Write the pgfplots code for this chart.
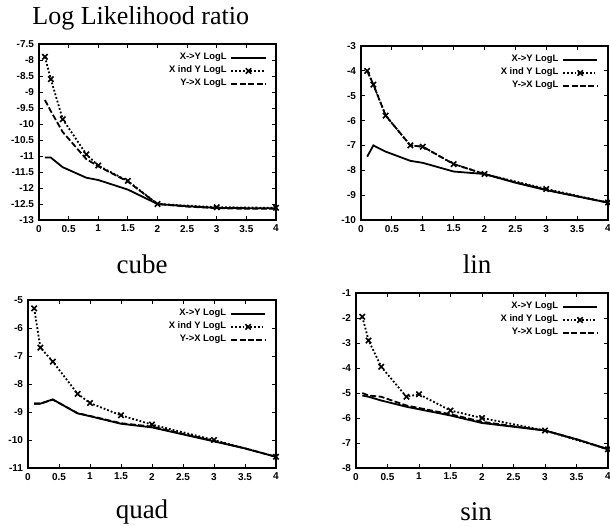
\documentclass[border=0pt]{standalone}
\usepackage{fontspec}
\setmainfont{Liberation Serif}
\newfontfamily\hv{Liberation Sans}
\usepackage{pgfplots}
\pgfplotsset{compat=1.18}

\pgfplotsset{
  llr/.style={
    scale only axis,
    xmin=0, xmax=4,
    xtick={0,0.5,1,1.5,2,2.5,3,3.5,4},
    xticklabels={0,0.5,1,1.5,2,2.5,3,3.5,4},
    tick align=inside,
    major tick length=2pt,
    tick style={black, line width=0.4pt},
    axis line style={black, line width=0.9pt},
    /pgf/number format/assume math mode=true,
    ticklabel style={font=\hv\bfseries\fontsize{5}{6}\selectfont},
    xticklabel style={yshift=1pt},
    yticklabel style={xshift=1pt},
    legend style={at={(0.97,0.985)}, anchor=north east, draw=none, fill=none,
      font=\hv\bfseries\fontsize{4.7}{5}\selectfont, row sep=-2.2pt,
      inner sep=1pt},
    legend cell align=right,
    legend plot pos=right,
  },
  xy/.style={black, line width=0.9pt, solid},
  ind/.style={black, line width=0.9pt, densely dotted, mark=x, mark size=1.9pt,
    mark options={solid, line width=0.8pt}},
  yx/.style={black, line width=0.9pt, dash pattern=on 3pt off 1.2pt},
}

\begin{document}
\begin{tikzpicture}[x=0.5pt, y=0.5pt]
\useasboundingbox (0,0) rectangle (610,526);

\node[anchor=west, inner sep=0pt, font=\fontsize{13}{15}\selectfont] at (32,508) {Log Likelihood ratio};

% cube
\begin{axis}[llr, at={(19.5pt,153pt)}, anchor=south west, width=118.5pt, height=88pt,
  ymin=-13, ymax=-7.5, ytick={-13,-12.5,-12,-11.5,-11,-10.5,-10,-9.5,-9,-8.5,-8,-7.5},
  yticklabels={-13,-12.5,-12,-11.5,-11,-10.5,-10,-9.5,-9,-8.5,-8,-7.5}]
\addplot[xy] coordinates {(0.1,-11.05) (0.2,-11.05) (0.4,-11.35) (0.8,-11.68) (1,-11.75) (1.5,-12.05) (2,-12.5) (2.5,-12.57) (3,-12.62) (3.5,-12.63) (4,-12.63)};
\addlegendentry{X->Y LogL}
\addplot[ind] coordinates {(0.1,-7.9) (0.2,-8.6) (0.4,-9.85) (0.8,-10.95) (1,-11.3) (1.5,-11.78) (2,-12.5) (3,-12.6) (4,-12.62)};
\addlegendentry{X ind Y LogL}
\addplot[yx] coordinates {(0.1,-9.25) (0.2,-9.6) (0.4,-10.25) (0.8,-11.1) (1,-11.32) (1.5,-11.8) (2,-12.5) (2.5,-12.58) (3,-12.63) (3.5,-12.65) (4,-12.65)};
\addlegendentry{Y->X LogL}
\end{axis}
\node[font=\fontsize{13.5}{15}\selectfont] at (142,262) {cube};

% lin
\begin{axis}[llr, at={(180.5pt,153pt)}, anchor=south west, width=123.5pt, height=87pt,
  ymin=-10, ymax=-3, ytick={-10,-9,-8,-7,-6,-5,-4,-3},
  yticklabels={-10,-9,-8,-7,-6,-5,-4,-3}]
\addplot[xy] coordinates {(0.1,-7.45) (0.2,-7.0) (0.4,-7.25) (0.8,-7.62) (1,-7.7) (1.5,-8.05) (2,-8.15) (2.5,-8.5) (3,-8.8) (3.5,-9.05) (4,-9.3)};
\addlegendentry{X->Y LogL}
\addplot[ind] coordinates {(0.1,-4.0) (0.2,-4.55) (0.4,-5.8) (0.8,-7.0) (1,-7.05) (1.5,-7.75) (2,-8.15) (3,-8.75) (4,-9.3)};
\addlegendentry{X ind Y LogL}
\addplot[yx] coordinates {(0.1,-4.0) (0.2,-4.55) (0.4,-5.8) (0.8,-7.0) (1,-7.05) (1.5,-7.75) (2,-8.15) (2.5,-8.48) (3,-8.78) (3.5,-9.05) (4,-9.3)};
\addlegendentry{Y->X LogL}
\end{axis}
\node[font=\fontsize{13.5}{15}\selectfont] at (477,262) {lin};

% quad
\begin{axis}[llr, at={(14pt,29pt)}, anchor=south west, width=124pt, height=84pt,
  ymin=-11, ymax=-5, ytick={-11,-10,-9,-8,-7,-6,-5},
  yticklabels={-11,-10,-9,-8,-7,-6,-5}]
\addplot[xy] coordinates {(0.1,-8.7) (0.2,-8.7) (0.4,-8.55) (0.8,-9.05) (1,-9.15) (1.5,-9.42) (2,-9.55) (2.5,-9.8) (3,-10.05) (3.5,-10.3) (4,-10.6)};
\addlegendentry{X->Y LogL}
\addplot[ind] coordinates {(0.1,-5.3) (0.2,-6.7) (0.4,-7.2) (0.8,-8.35) (1,-8.68) (1.5,-9.12) (2,-9.45) (3,-10.0) (4,-10.6)};
\addlegendentry{X ind Y LogL}
\addplot[yx] coordinates {(0.1,-8.7) (0.2,-8.7) (0.4,-8.56) (0.8,-9.04) (1,-9.14) (1.5,-9.4) (2,-9.52) (2.5,-9.78) (3,-10.03) (3.5,-10.3) (4,-10.6)};
\addlegendentry{Y->X LogL}
\end{axis}
\node[font=\fontsize{13.5}{15}\selectfont] at (142,14) {quad};

% sin
\begin{axis}[llr, at={(178pt,29pt)}, anchor=south west, width=126pt, height=87.5pt,
  ymin=-8, ymax=-1, ytick={-8,-7,-6,-5,-4,-3,-2,-1},
  yticklabels={-8,-7,-6,-5,-4,-3,-2,-1}]
\addplot[xy] coordinates {(0.1,-5.1) (0.2,-5.15) (0.4,-5.3) (0.8,-5.55) (1,-5.65) (1.5,-5.9) (2,-6.2) (2.5,-6.35) (3,-6.5) (3.5,-6.85) (4,-7.25)};
\addlegendentry{X->Y LogL}
\addplot[ind] coordinates {(0.1,-1.95) (0.2,-2.9) (0.4,-3.95) (0.8,-5.15) (1,-5.05) (1.5,-5.7) (2,-6.0) (3,-6.5) (4,-7.25)};
\addlegendentry{X ind Y LogL}
\addplot[yx] coordinates {(0.1,-5.0) (0.2,-5.1) (0.4,-5.15) (0.8,-5.5) (1,-5.6) (1.5,-5.85) (2,-6.15) (2.5,-6.33) (3,-6.5) (3.5,-6.85) (4,-7.25)};
\addlegendentry{Y->X LogL}
\end{axis}
\node[font=\fontsize{13.5}{15}\selectfont] at (476,14) {sin};
\end{tikzpicture}
\end{document}
